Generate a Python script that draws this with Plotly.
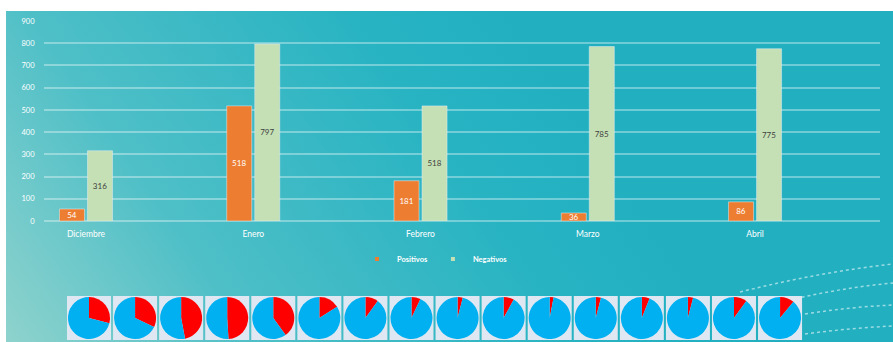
import base64
import plotly.graph_objects as go

# ---------------- data ----------------
months = ["Diciembre", "Enero", "Febrero", "Marzo", "Abril"]
positivos = [54, 518, 181, 36, 86]
negativos = [316, 797, 518, 785, 775]
y_ticks = [0, 100, 200, 300, 400, 500, 600, 700, 800, 900]

# small pies (estimated share, red = positive, blue = negative)
pie_red = [29, 32, 47, 49, 40, 16, 10, 7, 4, 8, 3, 4, 6, 4, 10, 11]
pie_blue = [71, 68, 53, 51, 60, 84, 90, 93, 96, 92, 97, 96, 94, 96, 90, 89]

# ---------------- styling ----------------
W, H = 893, 342
FONT = "Lato"
ORANGE = "#ed7d31"
GREEN = "#c5e0b4"
PIE_RED = "#ff0000"
PIE_BLUE = "#00b0f0"


def px_x(x):
    return x / W


def px_y(y):
    return 1 - y / H


# background gradient as svg image
svg = f'''<svg xmlns="http://www.w3.org/2000/svg" width="{W}" height="{H}" viewBox="0 0 {W} {H}" preserveAspectRatio="none">
<defs><linearGradient id="g" gradientUnits="userSpaceOnUse" x1="0" y1="342" x2="500" y2="0">
<stop offset="0" stop-color="#90d3cd"/><stop offset="0.35" stop-color="#4ebfc7"/>
<stop offset="0.8" stop-color="#27b3c2"/><stop offset="1" stop-color="#22b0c1"/></linearGradient></defs>
<rect x="6" y="11" width="{W-6}" height="{H-11}" fill="url(#g)"/></svg>'''
bg_uri = "data:image/svg+xml;base64," + base64.b64encode(svg.encode()).decode()

fig = go.Figure()

fig.add_trace(go.Bar(
    x=months, y=positivos, name="Positivos", marker_color=ORANGE,
    text=positivos, textposition="inside", insidetextanchor="middle",
    constraintext="none", textangle=0,
    textfont=dict(color="white", size=8, family=FONT),
    showlegend=False, legendgroup="pos",
))
fig.add_trace(go.Bar(
    x=months, y=negativos, name="Negativos", marker_color=GREEN,
    text=negativos, textposition="inside", insidetextanchor="middle",
    constraintext="none", textangle=0,
    textfont=dict(color="#404040", size=8, family=FONT),
    showlegend=False, legendgroup="neg",
))
# legend entries (small square markers like the original)
fig.add_trace(go.Scatter(x=[None], y=[None], mode="markers", name="Positivos",
                         marker=dict(symbol="square", size=4, color=ORANGE),
                         legendgroup="pos"))
fig.add_trace(go.Scatter(x=[None], y=[None], mode="markers", name="Negativos",
                         marker=dict(symbol="square", size=4, color=GREEN),
                         legendgroup="neg"))

shapes = []
# decorative dotted arcs
arcs = [
    ((740, 292), (820, 272), (893, 264)),
    ((790, 300), (840, 288), (893, 283)),
    ((805, 314), (850, 307), (893, 305)),
    ((805, 334), (850, 328), (893, 326)),
]
for (a, b, c) in arcs:
    path = (f"M{px_x(a[0])},{px_y(a[1])} Q{px_x(b[0])},{px_y(b[1])} "
            f"{px_x(c[0])},{px_y(c[1])}")
    shapes.append(dict(type="path", xref="paper", yref="paper", path=path,
                       line=dict(color="rgba(255,255,255,0.55)", width=1.5, dash="dot"),
                       layer="below"))

# pies in light boxes
box_x0, box_step, box_w = 67, 46.07, 44
box_y0, box_y1 = 296, 340
for i, (r, b) in enumerate(zip(pie_red, pie_blue)):
    x0 = box_x0 + box_step * i
    x1 = x0 + box_w
    shapes.append(dict(type="rect", xref="paper", yref="paper",
                       x0=px_x(x0), x1=px_x(x1), y0=px_y(box_y1), y1=px_y(box_y0),
                       fillcolor="#dfe8f2", line=dict(width=0), layer="below"))
    fig.add_trace(go.Pie(
        values=[r, b], labels=["Positivos", "Negativos"], sort=False,
        direction="clockwise", rotation=0, automargin=False,
        marker=dict(colors=[PIE_RED, PIE_BLUE], line=dict(width=0)),
        textinfo="none", hoverinfo="label+value", showlegend=False,
        domain=dict(x=[px_x(x0 + 1), px_x(x1 - 1)], y=[px_y(box_y1 - 1), px_y(box_y0 + 1)]),
    ))

fig.update_layout(
    width=W, height=H,
    margin=dict(l=0, r=0, t=0, b=0, autoexpand=False),
    paper_bgcolor="white", plot_bgcolor="rgba(0,0,0,0)",
    font=dict(family=FONT, color="white", size=8),
    barmode="group", bargap=0.665, bargroupgap=0.107,
    images=[dict(source=bg_uri, xref="paper", yref="paper", x=0, y=1,
                 sizex=1, sizey=1, sizing="stretch", layer="below",
                 xanchor="left", yanchor="top")],
    shapes=shapes,
    legend=dict(orientation="h", x=px_x(435), xanchor="center", y=px_y(259),
                yanchor="middle", bgcolor="rgba(0,0,0,0)",
                font=dict(family=FONT, size=7.5, color="white", weight="bold"),
                itemwidth=30, tracegroupgap=0),
    xaxis=dict(domain=[px_x(44), px_x(880)], type="category",
               range=[-0.251, 4.747], showgrid=False, zeroline=False,
               showline=False, ticks="outside", ticklen=5, automargin=False,
               tickcolor="rgba(0,0,0,0)",
               tickfont=dict(family=FONT, size=8.5, color="white")),
    yaxis=dict(domain=[px_y(221), px_y(21)], range=[0, 900], automargin=False,
               tickvals=y_ticks, ticktext=[str(v) for v in y_ticks],
               showgrid=True, gridcolor="rgba(255,255,255,0.35)", gridwidth=1.5,
               zeroline=True, zerolinecolor="rgba(255,255,255,0.35)", zerolinewidth=1.5,
               showline=False, ticks="outside", ticklen=7,
               tickcolor="rgba(0,0,0,0)",
               tickfont=dict(family=FONT, size=7.5, color="white")),
)

css = "margin:0;padding:0;overflow:hidden;width:893px;height:342px;"
fig.write_html(
    "out.html", config={"displayModeBar": False},
    post_script=(
        f"document.documentElement.style.cssText='{css}';"
        f"document.body.style.cssText='{css}';"
        "var gd=document.getElementById('{plot_id}');"
        "gd.style.position='fixed';gd.style.left='0';gd.style.top='0';"
    ),
)
